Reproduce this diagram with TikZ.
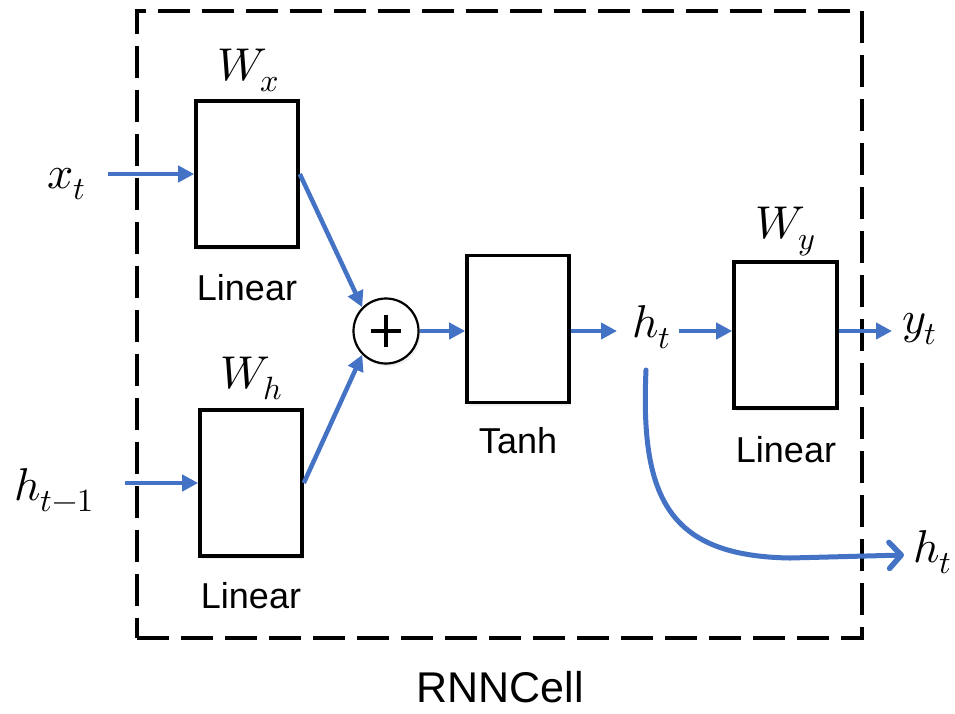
\documentclass[tikz,border=0pt]{standalone}
\usepackage{fontspec}
\usepackage{unicode-math}
\setmathfont{Latin Modern Math}
\setsansfont{Liberation Sans}
\usetikzlibrary{arrows.meta,shadows}
\definecolor{arrowblue}{HTML}{4472C4}
\begin{document}
\begin{tikzpicture}[x=1pt,y=-1pt,
  cellbox/.style={draw,line width=3.6pt,minimum width=102pt,minimum height=146pt,inner sep=0pt,fill=white,
    drop shadow={shadow xshift=2pt,shadow yshift=-3pt,opacity=0.12}},
  arr/.style={draw=arrowblue,line width=4.5pt,-{Triangle[length=16pt,width=16pt]}},
  mathlbl/.style={inner sep=0pt,anchor=base west,font=\fontsize{46}{54}\selectfont},
  txt/.style={inner sep=0pt,anchor=base,font=\sffamily\fontsize{36}{42}\selectfont},
  cellframe/.style={draw,line width=4.2pt,dash pattern=on 32pt off 12pt}]
\useasboundingbox (0,0) rectangle (955,713);
\fill[white] (0,0) rectangle (955,713);

% dashed frame
\node[cellframe,minimum width=725pt,minimum height=627pt,inner sep=0pt] (frame) at (499.5,324.5) {};
\node[txt,font=\sffamily\fontsize{43}{48}\selectfont] (cellname) at (500,702) {RNNCell};

% boxes
\node[cellbox] (wx) at (247,174) {};
\node[cellbox] (wh) at (251,483) {};
\node[cellbox,minimum height=147pt] (tanh) at (518,329) {};
\node[cellbox,minimum width=103pt] (wy) at (785.5,335) {};
\node[draw,circle,line width=2.2pt,minimum size=65pt,inner sep=0pt,fill=white,
  drop shadow={shadow xshift=2pt,shadow yshift=-3pt,opacity=0.12}] (plus) at (386,331) {};
\draw[line width=4pt] ([xshift=-15pt]plus.center) -- ([xshift=15pt]plus.center);
\draw[line width=4pt] ([yshift=-16pt]plus.center) -- ([yshift=16pt]plus.center);

% box labels
\node[mathlbl] (lwx) at (217,80) {$W_x$};
\node[mathlbl] (lwh) at (220,388) {$W_h$};
\node[mathlbl] (lwy) at (755,238) {$W_y$};
\node[txt] (linx) at (247,300) {Linear};
\node[txt] (linh) at (251,608) {Linear};
\node[txt] (liny) at (786,462) {Linear};
\node[txt] (ltanh) at (518,453) {Tanh};

% signal labels
\node[mathlbl] (xt) at (47,188) {$x_t$};
\node[mathlbl] (htm) at (14,500) {$h_{t-1}$};
\node[mathlbl] (ht) at (632,337) {$h_t$};
\node[mathlbl] (yt) at (902,333) {$y_t$};
\node[mathlbl] (htout) at (913,562) {$h_t$};

% connector ends
\coordinate (xt-out) at (108,174);
\coordinate (htm-out) at (125,483);
\coordinate (ht-in) at (617,331);
\coordinate (ht-out) at (679,331);
\coordinate (yt-in) at (892,331);
\coordinate (loop-start) at (646,370);
\coordinate (loop-end) at (904,555);

% connectors
\draw[arr] (xt-out) -- (wx.west);
\draw[arr] (htm-out) -- (wh.west);
\draw[arr] (wx.east) -- (plus.135);
\draw[arr] (wh.east) -- (plus.-135);
\draw[arr] (plus.east) -- (plus.east -| tanh.west);
\draw[arr] (tanh.east |- ht-in) -- (ht-in);
\draw[arr] (ht-out) -- (ht-out -| wy.west);
\draw[arr] (wy.east |- yt-in) -- (yt-in);
\draw[draw=arrowblue,line width=5pt,line cap=round,
  -{Straight Barb[length=12pt,width=26pt,line width=5.5pt,round]}]
  (loop-start) .. controls (640,500) and (670,556) .. (790,558) -- (loop-end);
\end{tikzpicture}
\end{document}
